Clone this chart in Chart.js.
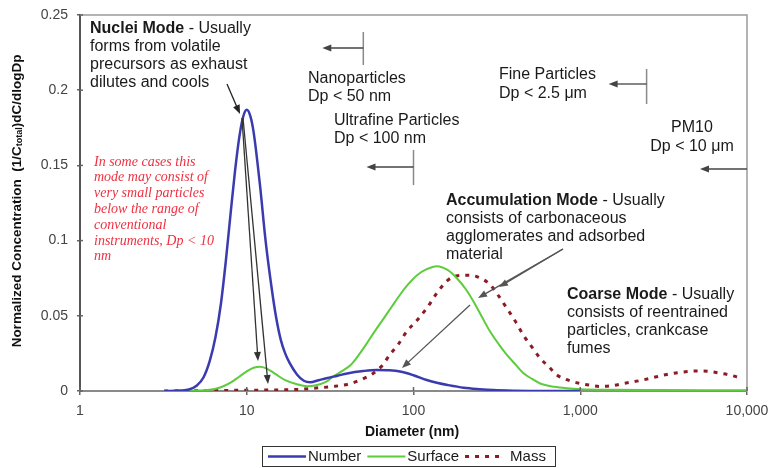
<!DOCTYPE html>
<html>
<head>
<meta charset="utf-8">
<script src="https://cdn.jsdelivr.net/npm/chart.js@4.4.1/dist/chart.umd.min.js"></script>
<style>
html, body { margin: 0; padding: 0; background: #fff; }
</style>
</head>
<body>
<canvas id="canvas" width="771" height="468"></canvas>
<script>
// values (diameter in nm, normalized concentration)
var numberDiam = [3.2, 4, 4.5, 5, 5.5, 6, 6.5, 7, 7.5, 8, 8.5, 9, 9.5, 10, 10.5, 11, 12, 13, 14, 15, 16, 17, 18, 20, 22, 24, 27, 30, 35, 40, 50, 60, 70, 83, 100, 120, 140, 160, 200, 250, 300, 400, 600, 1000];
var numberVal = [0, 0.0003, 0.001, 0.0035, 0.009, 0.02, 0.036, 0.058, 0.087, 0.118, 0.146, 0.168, 0.182, 0.187, 0.183, 0.172, 0.137, 0.099, 0.071, 0.049, 0.034, 0.025, 0.019, 0.011, 0.0068, 0.0058, 0.0072, 0.0085, 0.0102, 0.0117, 0.0133, 0.014, 0.0138, 0.013, 0.0105, 0.0073, 0.0053, 0.004, 0.0022, 0.0012, 0.0006, 0.0002, 0, 0];

var surfaceDiam = [3.2, 5, 6, 7, 8, 9, 10, 11, 12, 13, 14, 15, 17, 20, 23, 26, 30, 33, 37, 42, 47, 52, 58, 66, 74, 83, 93, 105, 120, 138, 160, 182, 205, 229, 258, 288, 325, 363, 410, 457, 515, 575, 700, 832, 1000, 1500, 3000, 10000];
var surfaceVal = [0, 0.0002, 0.0008, 0.0025, 0.0055, 0.0095, 0.013, 0.0155, 0.0162, 0.0152, 0.0132, 0.011, 0.0072, 0.0045, 0.0032, 0.0038, 0.0062, 0.0096, 0.013, 0.0173, 0.024, 0.031, 0.039, 0.048, 0.056, 0.064, 0.071, 0.077, 0.081, 0.083, 0.0805, 0.075, 0.068, 0.0595, 0.049, 0.0395, 0.031, 0.024, 0.0175, 0.0118, 0.008, 0.005, 0.0028, 0.0018, 0.0012, 0.0008, 0.0006, 0.0005];

var massDiam = [3.2, 5, 10, 15, 20, 26, 33, 42, 50, 57.5, 65, 72, 81, 91, 105, 120, 138, 158, 180, 204, 240, 288, 325, 363, 410, 457, 515, 575, 650, 724, 832, 1000, 1150, 1320, 1550, 1820, 2250, 2750, 3300, 3980, 5000, 5900, 6900, 8000, 8900];
var massVal = [0, 0.0002, 0.0005, 0.0007, 0.001, 0.002, 0.003, 0.005, 0.0082, 0.0118, 0.017, 0.024, 0.031, 0.0395, 0.047, 0.055, 0.065, 0.073, 0.0765, 0.077, 0.076, 0.0707, 0.063, 0.055, 0.046, 0.037, 0.029, 0.0218, 0.016, 0.0107, 0.0075, 0.005, 0.0038, 0.003, 0.0035, 0.005, 0.0068, 0.009, 0.011, 0.0124, 0.0133, 0.013, 0.0118, 0.0105, 0.009];

var seriesNames = ['Number', 'Surface', 'Mass'];
var xTickValues = [1, 10, 100, 1000, 10000];
var xTickLabels = ['1', '10', '100', '1,000', '10,000'];
var yTickValues = [0, 0.05, 0.1, 0.15, 0.2, 0.25];
var yTickLabels = ['0', '0.05', '0.1', '0.15', '0.2', '0.25'];

var SANS = '"Liberation Sans", Arial, sans-serif';
var SERIF = '"Liberation Serif", "Times New Roman", serif';

function pts(d, v) {
    return d.map(function(x, i) { return { x: x, y: v[i] }; });
}

function arrow(ctx, x1, y1, x2, y2, color, head, hw) {
    var a = Math.atan2(y2 - y1, x2 - x1);
    ctx.strokeStyle = color;
    ctx.fillStyle = color;
    ctx.lineWidth = 1.3;
    ctx.setLineDash([]);
    ctx.beginPath();
    ctx.moveTo(x1, y1);
    ctx.lineTo(x2 - Math.cos(a) * head * 0.8, y2 - Math.sin(a) * head * 0.8);
    ctx.stroke();
    ctx.beginPath();
    ctx.moveTo(x2, y2);
    ctx.lineTo(x2 - Math.cos(a) * head + Math.sin(a) * hw, y2 - Math.sin(a) * head - Math.cos(a) * hw);
    ctx.lineTo(x2 - Math.cos(a) * head - Math.sin(a) * hw, y2 - Math.sin(a) * head + Math.cos(a) * hw);
    ctx.closePath();
    ctx.fill();
}

// draws lines where the first one may start with a bold part
function textBlock(ctx, lines, x, y, lh, size, boldFirst) {
    ctx.textBaseline = 'middle';
    ctx.textAlign = 'left';
    ctx.fillStyle = '#1a1a1a';
    lines.forEach(function(line, i) {
        var xx = x;
        if (i === 0 && boldFirst) {
            ctx.font = 'bold ' + size + 'px ' + SANS;
            ctx.fillText(boldFirst, xx, y);
            xx += ctx.measureText(boldFirst).width;
        }
        ctx.font = size + 'px ' + SANS;
        ctx.fillText(line, xx, y + i * lh);
    });
}

var annotations = {
    id: 'annotations',
    afterDraw: function(chart) {
        var ctx = chart.ctx;
        var xs = chart.scales.x, ys = chart.scales.y;
        var a = chart.chartArea;
        ctx.save();

        // frame top / right
        ctx.strokeStyle = '#9a9a9a';
        ctx.lineWidth = 1.5;
        ctx.beginPath();
        ctx.moveTo(a.left, a.top);
        ctx.lineTo(a.right, a.top);
        ctx.lineTo(a.right, a.bottom);
        ctx.stroke();

        // inner part of tick marks
        ctx.strokeStyle = '#666';
        ctx.lineWidth = 1.5;
        xTickValues.forEach(function(v) {
            var px = xs.getPixelForValue(v);
            ctx.beginPath(); ctx.moveTo(px, a.bottom); ctx.lineTo(px, a.bottom - 4); ctx.stroke();
        });
        yTickValues.forEach(function(v) {
            var py = ys.getPixelForValue(v);
            ctx.beginPath(); ctx.moveTo(a.left, py); ctx.lineTo(a.left + 3, py); ctx.stroke();
        });

        // size class markers
        ctx.strokeStyle = '#8a8a8a';
        ctx.lineWidth = 1.5;
        var nx = xs.getPixelForValue(50), ux = xs.getPixelForValue(100), fx = xs.getPixelForValue(2500), px10 = xs.getPixelForValue(10000);
        [[nx, 32, 65], [ux, 150, 185], [fx, 69, 104]].forEach(function(m) {
            ctx.beginPath(); ctx.moveTo(m[0], m[1]); ctx.lineTo(m[0], m[2]); ctx.stroke();
        });
        arrow(ctx, nx, 48, nx - 41, 48, '#444', 9, 3.5);
        arrow(ctx, ux, 167, ux - 47, 167, '#444', 9, 3.5);
        arrow(ctx, fx, 84, fx - 38, 84, '#444', 9, 3.5);
        arrow(ctx, px10, 169, px10 - 47, 169, '#444', 9, 3.5);

        // mode arrows
        arrow(ctx, 227, 84, 240, 114, '#222', 9, 3.5);
        arrow(ctx, 242, 118, 258, 361, '#333', 9, 3.5);
        arrow(ctx, 243, 118, 268, 384, '#333', 9, 3.5);
        arrow(ctx, 563, 249, 499, 287, '#555', 9, 3.5);
        arrow(ctx, 563, 249, 478, 298, '#555', 9, 3.5);
        arrow(ctx, 470, 305, 402, 368, '#555', 9, 3.5);

        // text blocks
        textBlock(ctx, [' - Usually', 'forms from volatile', 'precursors as exhaust', 'dilutes and cools'], 90, 29, 17.7, 16, 'Nuclei Mode');
        textBlock(ctx, ['Nanoparticles', 'Dp < 50 nm'], 308, 79, 18, 16);
        textBlock(ctx, ['Ultrafine Particles', 'Dp < 100 nm'], 334, 121, 18, 16);
        textBlock(ctx, ['Fine Particles', 'Dp < 2.5 \u03bcm'], 499, 75, 19, 16);
        textBlock(ctx, [' - Usually', 'consists of carbonaceous', 'agglomerates and adsorbed', 'material'], 446, 201, 18, 16, 'Accumulation Mode');
        textBlock(ctx, [' - Usually', 'consists of reentrained', 'particles, crankcase', 'fumes'], 567, 295, 17.8, 16, 'Coarse Mode');

        ctx.font = '16px ' + SANS;
        ctx.textAlign = 'center';
        ctx.fillText('PM10', 692, 128);
        ctx.fillText('Dp < 10 \u03bcm', 692, 147);

        ctx.textAlign = 'left';
        ctx.fillStyle = '#ee3040';
        ctx.font = 'italic 14px ' + SERIF;
        ['In some cases this', 'mode may consist of', 'very small particles', 'below the range of',
         'conventional', 'instruments, Dp < 10', 'nm'].forEach(function(l, i) {
            ctx.fillText(l, 94, 162 + i * 15.8);
        });

        // axis titles
        ctx.fillStyle = '#111';
        ctx.font = 'bold 14px ' + SANS;
        ctx.textAlign = 'center';
        ctx.fillText('Diameter (nm)', 412, 432);

        ctx.save();
        ctx.translate(17, 201);
        ctx.rotate(-Math.PI / 2);
        ctx.textAlign = 'left';
        var s1 = 'Normalized Concentration  (1/C', s2 = 'total', s3 = ')dC/dlogDp';
        ctx.font = 'bold 13.5px ' + SANS;
        var w1 = ctx.measureText(s1).width, w3 = ctx.measureText(s3).width;
        ctx.font = 'bold 9px ' + SANS;
        var w2 = ctx.measureText(s2).width;
        var x0 = -(w1 + w2 + w3) / 2;
        ctx.font = 'bold 13.5px ' + SANS;
        ctx.fillText(s1, x0, 0);
        ctx.fillText(s3, x0 + w1 + w2, 0);
        ctx.font = 'bold 9px ' + SANS;
        ctx.fillText(s2, x0 + w1, 3);
        ctx.restore();

        // legend
        ctx.strokeStyle = '#333';
        ctx.lineWidth = 1;
        ctx.setLineDash([]);
        ctx.strokeRect(262.5, 446.5, 293, 20);
        ctx.font = '15px ' + SANS;
        ctx.textBaseline = 'middle';
        ctx.textAlign = 'left';
        var lx = 268;
        chart.data.datasets.forEach(function(ds, i) {
            ctx.strokeStyle = ds.borderColor;
            ctx.lineWidth = ds.borderWidth;
            ctx.setLineDash(ds.borderDash || []);
            ctx.beginPath(); ctx.moveTo(lx, 456.5); ctx.lineTo(lx + 38, 456.5); ctx.stroke();
            ctx.setLineDash([]);
            ctx.fillStyle = '#1a1a1a';
            var gap = i === 2 ? 7 : 2;
            ctx.fillText(ds.label, lx + 38 + gap, 457);
            lx += 38 + gap + ctx.measureText(ds.label).width + 6;
        });

        ctx.restore();
    }
};

var ctx = document.getElementById('canvas').getContext('2d');
var myChart = new Chart(ctx, {
    type: 'line',
    data: {
        datasets: [{
            label: seriesNames[0],
            data: pts(numberDiam, numberVal),
            borderColor: '#3b3bb0',
            borderWidth: 2.5,
            cubicInterpolationMode: 'monotone'
        },
        {
            label: seriesNames[1],
            data: pts(surfaceDiam, surfaceVal),
            borderColor: '#5ccc3c',
            borderWidth: 2,
            cubicInterpolationMode: 'monotone'
        },
        {
            label: seriesNames[2],
            data: pts(massDiam, massVal),
            borderColor: '#8b1c24',
            borderWidth: 3,
            borderDash: [4, 6],
            cubicInterpolationMode: 'monotone'
        }]
    },
    options: {
        responsive: false,
        animation: false,
        devicePixelRatio: 1,
        layout: { padding: { top: 15, right: 24, left: 0, bottom: 0 } },
        elements: { point: { radius: 0 } },
        plugins: { legend: { display: false }, tooltip: { enabled: false } },
        scales: {
            x: {
                type: 'logarithmic',
                min: 1,
                max: 10000,
                border: { color: '#8a8a8a', width: 2 },
                grid: { drawOnChartArea: false, tickLength: 4, color: '#666', lineWidth: 1.5 },
                ticks: {
                    autoSkip: false, maxRotation: 0, padding: 8,
                    color: '#444', font: { family: SANS, size: 14 },
                    callback: function(v) { return xTickLabels[xTickValues.indexOf(v)]; }
                },
                afterBuildTicks: function(axis) {
                    axis.ticks = xTickValues.map(function(v) { return { value: v }; });
                },
                afterFit: function(s) { s.height = 77; s.paddingLeft = 0; s.paddingRight = 0; }
            },
            y: {
                min: 0,
                max: 0.25,
                border: { color: '#555', width: 2 },
                grid: { drawOnChartArea: false, tickLength: 3, color: '#666', lineWidth: 1.5 },
                ticks: {
                    padding: 9, color: '#444', font: { family: SANS, size: 14 },
                    callback: function(v, i) { return yTickLabels[i]; }
                },
                afterBuildTicks: function(axis) {
                    axis.ticks = yTickValues.map(function(v) { return { value: v }; });
                },
                afterFit: function(s) { s.width = 80; s.paddingTop = 0; s.paddingBottom = 0; }
            }
        }
    },
    plugins: [annotations]
});
</script>
</body>
</html>
